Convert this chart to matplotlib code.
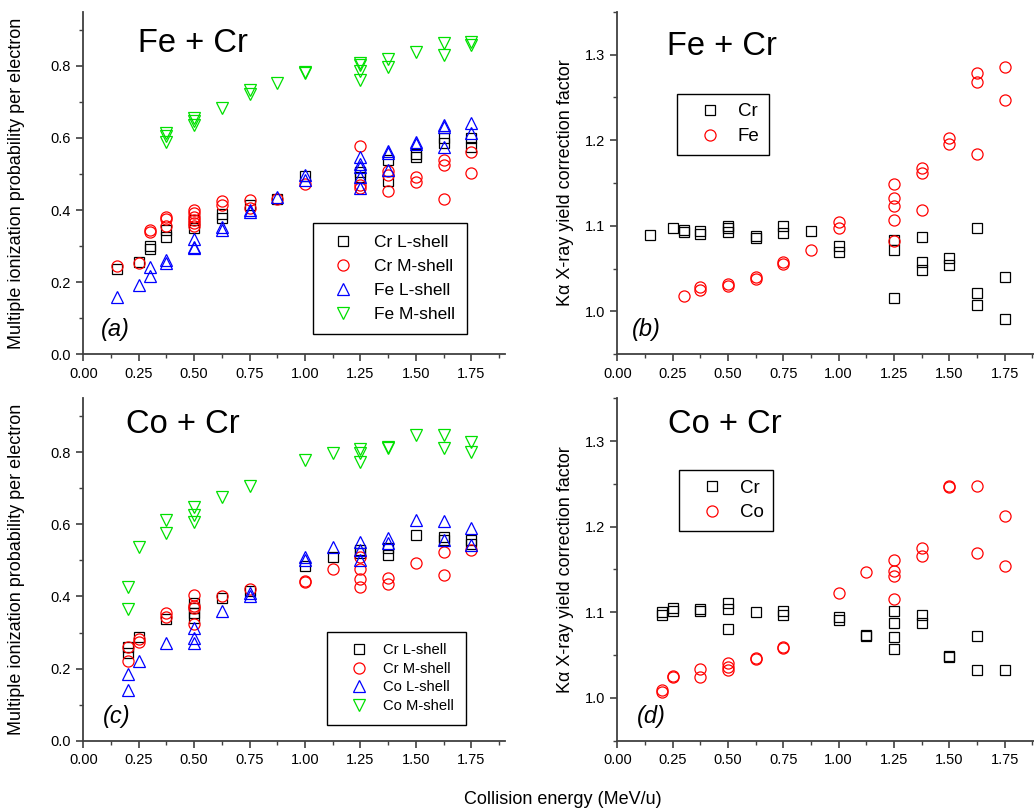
import matplotlib
matplotlib.use("Agg")
import matplotlib.pyplot as plt
from matplotlib.ticker import MultipleLocator, FormatStrFormatter

plt.rcParams['font.family'] = ['Liberation Sans', 'DejaVu Sans']

# (a) Fe + Cr, multiple ionization probability
a_cr_L_x = [0.15, 0.25, 0.30, 0.30, 0.375, 0.375, 0.5, 0.5, 0.625, 0.625, 0.75, 0.875, 1.0,
            1.25, 1.25, 1.375, 1.375, 1.5, 1.5, 1.625, 1.625, 1.75, 1.75]
a_cr_L_y = [0.236, 0.256, 0.300, 0.292, 0.345, 0.326, 0.372, 0.350, 0.390, 0.377, 0.414, 0.430, 0.494,
            0.506, 0.492, 0.540, 0.481, 0.555, 0.548, 0.599, 0.587, 0.601, 0.576]
a_cr_M_x = [0.15, 0.25, 0.30, 0.30, 0.375, 0.375, 0.375, 0.5, 0.5, 0.5, 0.5, 0.5, 0.5, 0.625, 0.625,
            0.75, 0.75, 0.875, 1.0, 1.25, 1.25, 1.25, 1.375, 1.375, 1.375, 1.5, 1.5,
            1.625, 1.625, 1.625, 1.75, 1.75]
a_cr_M_y = [0.245, 0.254, 0.345, 0.338, 0.381, 0.374, 0.357, 0.400, 0.391, 0.381, 0.372, 0.365, 0.355,
            0.425, 0.414, 0.428, 0.405, 0.430, 0.471, 0.578, 0.470, 0.460, 0.509, 0.497, 0.454,
            0.492, 0.479, 0.539, 0.525, 0.431, 0.560, 0.503]
a_fe_L_x = [0.15, 0.25, 0.30, 0.30, 0.375, 0.375, 0.5, 0.5, 0.5, 0.625, 0.625, 0.75, 0.75, 0.875,
            1.0, 1.0, 1.25, 1.25, 1.25, 1.25, 1.25, 1.375, 1.375, 1.375, 1.5, 1.5,
            1.625, 1.625, 1.625, 1.75, 1.75]
a_fe_L_y = [0.160, 0.192, 0.243, 0.217, 0.261, 0.254, 0.319, 0.298, 0.294, 0.354, 0.345, 0.400, 0.394,
            0.437, 0.497, 0.483, 0.548, 0.529, 0.520, 0.492, 0.460, 0.564, 0.557, 0.511,
            0.589, 0.583, 0.636, 0.629, 0.575, 0.640, 0.614]
a_fe_M_x = [0.375, 0.375, 0.375, 0.5, 0.5, 0.5, 0.625, 0.75, 0.75, 0.875, 1.0, 1.0,
            1.25, 1.25, 1.25, 1.25, 1.375, 1.375, 1.5, 1.625, 1.625, 1.75, 1.75]
a_fe_M_y = [0.614, 0.605, 0.589, 0.654, 0.648, 0.636, 0.682, 0.734, 0.723, 0.751, 0.783, 0.779,
            0.808, 0.802, 0.786, 0.760, 0.820, 0.797, 0.839, 0.862, 0.830, 0.867, 0.857]

# (b) Fe + Cr, K-alpha yield correction
b_cr_x = [0.15, 0.25, 0.30, 0.30, 0.375, 0.375, 0.5, 0.5, 0.5, 0.625, 0.625, 0.75, 0.75, 0.875,
          1.0, 1.0, 1.25, 1.25, 1.25, 1.375, 1.375, 1.375, 1.5, 1.5, 1.625, 1.625, 1.625, 1.75, 1.75]
b_cr_y = [1.089, 1.097, 1.095, 1.093, 1.094, 1.091, 1.100, 1.097, 1.093, 1.088, 1.086, 1.100, 1.092,
          1.094, 1.077, 1.069, 1.083, 1.072, 1.016, 1.087, 1.058, 1.049, 1.062, 1.054,
          1.097, 1.021, 1.007, 1.040, 0.991]
b_fe_x = [0.30, 0.375, 0.375, 0.5, 0.5, 0.625, 0.625, 0.75, 0.75, 0.875, 1.0, 1.0,
          1.25, 1.25, 1.25, 1.25, 1.25, 1.375, 1.375, 1.375, 1.5, 1.5, 1.625, 1.625, 1.625, 1.75, 1.75]
b_fe_y = [1.018, 1.029, 1.025, 1.032, 1.030, 1.040, 1.038, 1.058, 1.056, 1.072, 1.105, 1.097,
          1.149, 1.133, 1.123, 1.107, 1.082, 1.168, 1.162, 1.119, 1.203, 1.196,
          1.279, 1.268, 1.184, 1.286, 1.247]

# (c) Co + Cr, multiple ionization probability
c_cr_L_x = [0.2, 0.2, 0.25, 0.375, 0.5, 0.5, 0.5, 0.5, 0.625, 0.75, 1.0, 1.125, 1.25, 1.25,
            1.375, 1.375, 1.5, 1.625, 1.625, 1.75, 1.75]
c_cr_L_y = [0.260, 0.242, 0.287, 0.337, 0.381, 0.367, 0.353, 0.339, 0.395, 0.416, 0.485, 0.510,
            0.529, 0.520, 0.534, 0.515, 0.571, 0.564, 0.557, 0.557, 0.546]
c_cr_M_x = [0.2, 0.2, 0.25, 0.25, 0.375, 0.375, 0.5, 0.5, 0.5, 0.5, 0.625, 0.75, 1.0, 1.0, 1.125,
            1.25, 1.25, 1.25, 1.25, 1.375, 1.375, 1.5, 1.625, 1.625, 1.75]
c_cr_M_y = [0.261, 0.221, 0.281, 0.275, 0.353, 0.344, 0.404, 0.374, 0.367, 0.325, 0.402, 0.420,
            0.444, 0.439, 0.476, 0.509, 0.475, 0.449, 0.427, 0.450, 0.435, 0.492, 0.524, 0.460, 0.529]
c_co_L_x = [0.2, 0.2, 0.25, 0.375, 0.5, 0.5, 0.5, 0.625, 0.75, 0.75, 1.0, 1.0, 1.125,
            1.25, 1.25, 1.25, 1.375, 1.375, 1.5, 1.625, 1.625, 1.75, 1.75]
c_co_L_y = [0.185, 0.140, 0.221, 0.272, 0.312, 0.284, 0.270, 0.361, 0.409, 0.400, 0.509, 0.501,
            0.538, 0.552, 0.529, 0.501, 0.561, 0.549, 0.612, 0.610, 0.557, 0.589, 0.543]
c_co_M_x = [0.2, 0.2, 0.25, 0.375, 0.375, 0.5, 0.5, 0.5, 0.625, 0.75, 1.0, 1.125,
            1.25, 1.25, 1.25, 1.375, 1.375, 1.5, 1.625, 1.625, 1.75, 1.75]
c_co_M_y = [0.427, 0.364, 0.536, 0.612, 0.575, 0.647, 0.626, 0.607, 0.675, 0.706, 0.779, 0.797,
            0.808, 0.797, 0.774, 0.816, 0.811, 0.848, 0.848, 0.811, 0.829, 0.800]

# (d) Co + Cr, K-alpha yield correction
d_cr_x = [0.2, 0.2, 0.25, 0.25, 0.375, 0.375, 0.5, 0.5, 0.5, 0.625, 0.75, 0.75, 1.0, 1.0, 1.125, 1.125,
          1.25, 1.25, 1.25, 1.25, 1.375, 1.375, 1.5, 1.5, 1.625, 1.625, 1.75]
d_cr_y = [1.100, 1.097, 1.105, 1.102, 1.104, 1.102, 1.111, 1.104, 1.080, 1.100, 1.102, 1.097,
          1.095, 1.091, 1.074, 1.072, 1.102, 1.088, 1.071, 1.057, 1.097, 1.087, 1.049, 1.048,
          1.072, 1.032, 1.032]
d_co_x = [0.2, 0.2, 0.25, 0.25, 0.375, 0.375, 0.5, 0.5, 0.5, 0.625, 0.625, 0.75, 0.75, 1.0, 1.125,
          1.25, 1.25, 1.25, 1.25, 1.375, 1.375, 1.5, 1.5, 1.625, 1.625, 1.75, 1.75]
d_co_y = [1.009, 1.007, 1.025, 1.024, 1.034, 1.024, 1.041, 1.036, 1.032, 1.047, 1.045, 1.060, 1.058,
          1.122, 1.147, 1.161, 1.148, 1.142, 1.116, 1.175, 1.166, 1.247, 1.246, 1.247, 1.169,
          1.212, 1.154]

W, H = 1034, 809
fig = plt.figure(figsize=(W / 100, H / 100), dpi=100)


def px_axes(left, top, right, bottom):
    return fig.add_axes([left / W, 1 - bottom / H, (right - left) / W, (bottom - top) / H])


def style(ax, ylim, ymaj, ymin):
    ax.set_xlim(0, 1.9)
    ax.set_ylim(*ylim)
    ax.xaxis.set_major_locator(MultipleLocator(0.25))
    ax.xaxis.set_minor_locator(MultipleLocator(0.125))
    ax.xaxis.set_major_formatter(FormatStrFormatter("%.2f"))
    ax.yaxis.set_major_locator(MultipleLocator(ymaj))
    ax.yaxis.set_minor_locator(MultipleLocator(ymin))
    ax.yaxis.set_major_formatter(FormatStrFormatter("%.1f"))
    for s in ["top", "right"]:
        ax.spines[s].set_visible(False)
    for s in ["left", "bottom"]:
        ax.spines[s].set_linewidth(1.3)
        ax.spines[s].set_color("#404040")
    ax.tick_params(which="major", direction="out", length=5, width=1.2, color="#404040",
                   labelsize=10.5, pad=4)
    ax.tick_params(which="minor", direction="out", length=3, width=1.0, color="#404040")


def pts(ax, x, y, marker, color, label, ms=8):
    ax.plot(x, y, linestyle="none", marker=marker, markersize=ms, markerfacecolor="none",
            markeredgecolor=color, markeredgewidth=0.9, label=label)


def legend(ax, left, top, size, spacing, hl, tp, bp):
    leg = ax.legend(loc="upper left", bbox_to_anchor=(left / W, 1 - top / H), bbox_transform=fig.transFigure,
                    borderaxespad=0, fancybox=False, framealpha=1, edgecolor="black", numpoints=1,
                    prop={"size": size}, labelspacing=spacing, handlelength=hl, handletextpad=tp,
                    borderpad=bp)
    leg.get_frame().set_linewidth(1.0)


green = "#00e000"

ax_a = px_axes(83.3, 11.7, 504.5, 354.3)
style(ax_a, (0, 0.95), 0.2, 0.1)
pts(ax_a, a_cr_L_x, a_cr_L_y, "s", "black", "Cr L-shell", 7)
pts(ax_a, a_cr_M_x, a_cr_M_y, "o", "red", "Cr M-shell")
pts(ax_a, a_fe_L_x, a_fe_L_y, "^", "blue", "Fe L-shell")
pts(ax_a, a_fe_M_x, a_fe_M_y, "v", green, "Fe M-shell")
legend(ax_a, 313, 223, 12.5, 0.5, 2.0, 0.8, 0.7)

ax_b = px_axes(617.3, 11.7, 1037.8, 354.3)
style(ax_b, (0.95, 1.35), 0.1, 0.05)
pts(ax_b, b_cr_x, b_cr_y, "s", "black", "Cr", 7)
pts(ax_b, b_fe_x, b_fe_y, "o", "red", "Fe")
legend(ax_b, 676.7, 94, 13.5, 0.4, 2.5, 0.25, 0.5)

ax_c = px_axes(83.3, 398.2, 504.5, 740.7)
style(ax_c, (0, 0.95), 0.2, 0.1)
pts(ax_c, c_cr_L_x, c_cr_L_y, "s", "black", "Cr L-shell", 7)
pts(ax_c, c_cr_M_x, c_cr_M_y, "o", "red", "Cr M-shell")
pts(ax_c, c_co_L_x, c_co_L_y, "^", "blue", "Co L-shell")
pts(ax_c, c_co_M_x, c_co_M_y, "v", green, "Co M-shell")
legend(ax_c, 327, 631.7, 10.6, 0.3, 2.7, 0.3, 0.8)

ax_d = px_axes(617.3, 398.2, 1037.8, 740.7)
style(ax_d, (0.95, 1.35), 0.1, 0.05)
pts(ax_d, d_cr_x, d_cr_y, "s", "black", "Cr", 7)
pts(ax_d, d_co_x, d_co_y, "o", "red", "Co")
legend(ax_d, 679, 470, 13.5, 0.4, 2.5, 0.25, 0.5)

# titles, panel letters and axis labels, placed in figure pixels
for x, y, t in [(193.3, 51.7, "Fe + Cr"), (722.3, 55, "Fe + Cr"),
                (183.3, 433.3, "Co + Cr"), (725, 433.3, "Co + Cr")]:
    fig.text(x / W, 1 - y / H, t, fontsize=23.5, ha="center", va="baseline")
for x, y, t in [(115, 336, "(a)"), (646.7, 336, "(b)"), (116.3, 722.7, "(c)"), (651.3, 722.7, "(d)")]:
    fig.text(x / W, 1 - y / H, t, fontsize=17, style="italic", ha="center", va="baseline")
for y in [183, 569.5]:
    fig.text(17 / W, 1 - y / H, "Multiple ionization probability per electron", fontsize=13,
             rotation=90, ha="center", va="center")
    fig.text(565 / W, 1 - y / H, "K\u03b1 X-ray yield correction factor", fontsize=13,
             rotation=90, ha="center", va="center")
fig.text(563 / W, 1 - 799 / H, "Collision energy (MeV/u)", fontsize=13, ha="center", va="center")

fig.savefig("out.png", dpi=100)
